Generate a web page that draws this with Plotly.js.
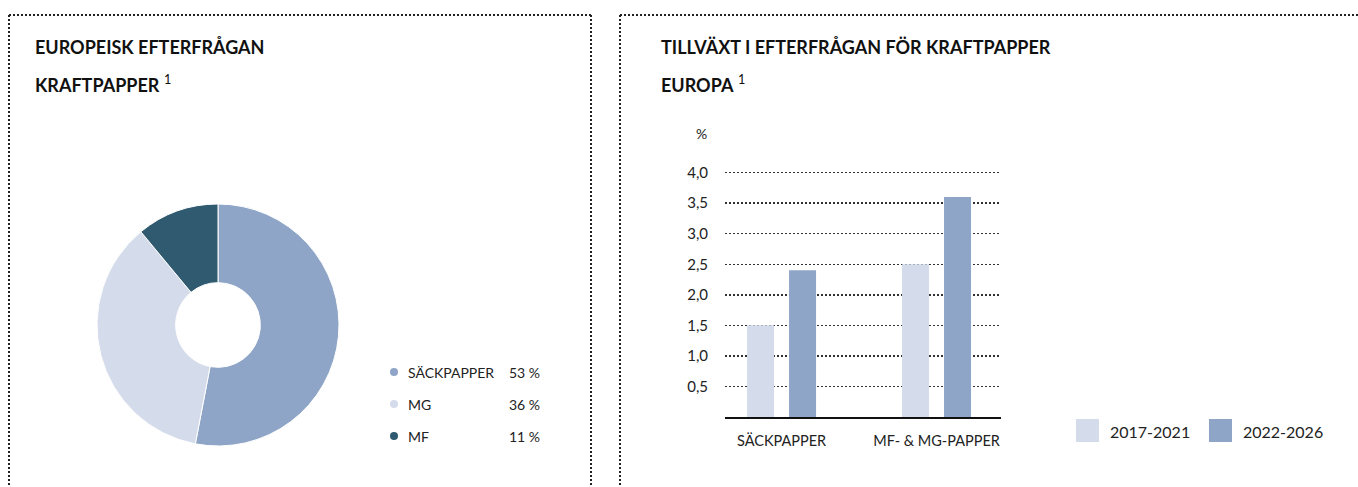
<!DOCTYPE html>
<html>
<head>
<meta charset="utf-8">
<script src="https://cdn.plot.ly/plotly-3.0.1.min.js"></script>
<style>html,body{margin:0;padding:0;background:#fff}#chart{width:1358px;height:487px}</style>
</head>
<body>
<div id="chart"></div>
<script>
// ---- data ----
const pieLabels = ["SÄCKPAPPER", "MG", "MF"];
const pieValues = [53, 36, 11];
const pieColors = ["#8FA5C7", "#D4DBEA", "#2F5A70"];

const barCategories = ["SÄCKPAPPER", "MF- & MG-PAPPER"];
const seriesNames = ["2017-2021", "2022-2026"];
const series2017 = [1.5, 2.5];
const series2022 = [2.4, 3.6];
const seriesColors = ["#D4DBEA", "#8FA5C7"];
const yTickVals = [0.5, 1.0, 1.5, 2.0, 2.5, 3.0, 3.5, 4.0];
const yTickText = ["0,5", "1,0", "1,5", "2,0", "2,5", "3,0", "3,5", "4,0"];

const leftTitle = ["EUROPEISK EFTERFRÅGAN", "KRAFTPAPPER"];
const rightTitle = ["TILLVÄXT I EFTERFRÅGAN FÖR KRAFTPAPPER", "EUROPA"];

// ---- helpers (pixel -> paper) ----
const W = 1358, H = 487;
const px = x => x / W;
const py = y => 1 - y / H;
const FONT = "Lato, 'Open Sans', sans-serif";
const DOTS = "2px,2px";

const traces = [
  {
    type: "pie",
    labels: pieLabels,
    values: pieValues,
    marker: {colors: pieColors, line: {color: "#ffffff", width: 1}},
    hole: 0.35,
    sort: false,
    direction: "clockwise",
    rotation: 0,
    textinfo: "none",
    hoverinfo: "label+percent",
    showlegend: false,
    domain: {x: [px(97), px(339)], y: [py(446), py(204)]}
  },
  {
    type: "bar",
    name: seriesNames[0],
    x: barCategories,
    y: series2017,
    marker: {color: seriesColors[0]},
    xaxis: "x", yaxis: "y",
    showlegend: false
  },
  {
    type: "bar",
    name: seriesNames[1],
    x: barCategories,
    y: series2022,
    marker: {color: seriesColors[1]},
    xaxis: "x", yaxis: "y",
    showlegend: false
  }
];

const annotations = [];
const shapes = [];

// panel borders
const border = {color: "#222", width: 2, dash: DOTS};
shapes.push({type: "line", xref: "paper", yref: "paper", x0: px(9), x1: px(591), y0: py(15), y1: py(15), line: border});
shapes.push({type: "line", xref: "paper", yref: "paper", x0: px(9), x1: px(9), y0: py(15), y1: py(495), line: border});
shapes.push({type: "line", xref: "paper", yref: "paper", x0: px(591), x1: px(591), y0: py(15), y1: py(495), line: border});
shapes.push({type: "line", xref: "paper", yref: "paper", x0: px(620), x1: px(1365), y0: py(15), y1: py(15), line: border});
shapes.push({type: "line", xref: "paper", yref: "paper", x0: px(620), x1: px(620), y0: py(15), y1: py(495), line: border});

// titles
const sup = '<sup><span style="font-weight:normal">1</span></sup>';
[[leftTitle, 33], [rightTitle, 659]].forEach(([t, x]) => {
  annotations.push({xref: "paper", yref: "paper", x: px(x), y: py(47), xanchor: "left", yanchor: "middle", showarrow: false,
    text: "<b>" + t[0] + "</b>", font: {family: FONT, size: 18, color: "#111"}});
  annotations.push({xref: "paper", yref: "paper", x: px(x), y: py(84), xanchor: "left", yanchor: "middle", showarrow: false,
    text: "<b>" + t[1] + "</b> " + sup, font: {family: FONT, size: 18, color: "#111"}});
});

// pie legend
pieLabels.forEach((lab, i) => {
  const yc = 372 + i * 32;
  shapes.push({type: "circle", xref: "paper", yref: "paper", x0: px(390), x1: px(398), y0: py(yc + 4), y1: py(yc - 4),
    fillcolor: pieColors[i], line: {width: 0}});
  annotations.push({xref: "paper", yref: "paper", x: px(406), y: py(yc), xanchor: "left", yanchor: "middle", showarrow: false,
    text: lab, font: {family: FONT, size: 14, color: "#222"}});
  annotations.push({xref: "paper", yref: "paper", x: px(542), y: py(yc), xanchor: "right", yanchor: "middle", showarrow: false,
    text: pieValues[i] + " %", font: {family: FONT, size: 14, color: "#222"}});
});

// bar legend
const legX = [1076, 1209];
seriesNames.forEach((n, i) => {
  shapes.push({type: "rect", xref: "paper", yref: "paper", x0: px(legX[i]), x1: px(legX[i] + 23), y0: py(442), y1: py(419),
    fillcolor: seriesColors[i], line: {width: 0}});
  annotations.push({xref: "paper", yref: "paper", x: px(legX[i] + 32), y: py(431), xanchor: "left", yanchor: "middle", showarrow: false,
    text: n, font: {family: FONT, size: 16, color: "#222"}});
});

// % unit label
annotations.push({xref: "paper", yref: "paper", x: px(701), y: py(133), xanchor: "center", yanchor: "middle", showarrow: false,
  text: "%", font: {family: FONT, size: 14, color: "#222"}});

const layout = {
  width: W, height: H,
  margin: {l: 0, r: 0, t: 0, b: 0},
  paper_bgcolor: "#fff", plot_bgcolor: "rgba(0,0,0,0)",
  font: {family: FONT, color: "#222"},
  barmode: "group",
  bargap: 0.458,
  bargroupgap: 0.357,
  showlegend: false,
  xaxis: {
    domain: [px(725), px(1001)],
    anchor: "y",
    type: "category",
    range: [-0.365, 1.416],
    showgrid: false,
    showline: true, linecolor: "#111", linewidth: 1.5,
    ticks: "",
    ticklabelstandoff: 10,
    tickfont: {family: FONT, size: 14.5, color: "#222"},
    fixedrange: true
  },
  yaxis: {
    domain: [py(417), py(160.4)],
    anchor: "x",
    range: [0, 4.2],
    tickvals: yTickVals,
    ticktext: yTickText,
    showgrid: true, gridcolor: "#333", gridwidth: 1.5, griddash: DOTS,
    zeroline: false, showline: false,
    ticks: "",
    ticklabelstandoff: 16,
    tickfont: {family: FONT, size: 15, color: "#222"},
    fixedrange: true
  },
  shapes: shapes,
  annotations: annotations
};

Plotly.newPlot("chart", traces, layout, {displayModeBar: false, staticPlot: true});
</script>
</body>
</html>
